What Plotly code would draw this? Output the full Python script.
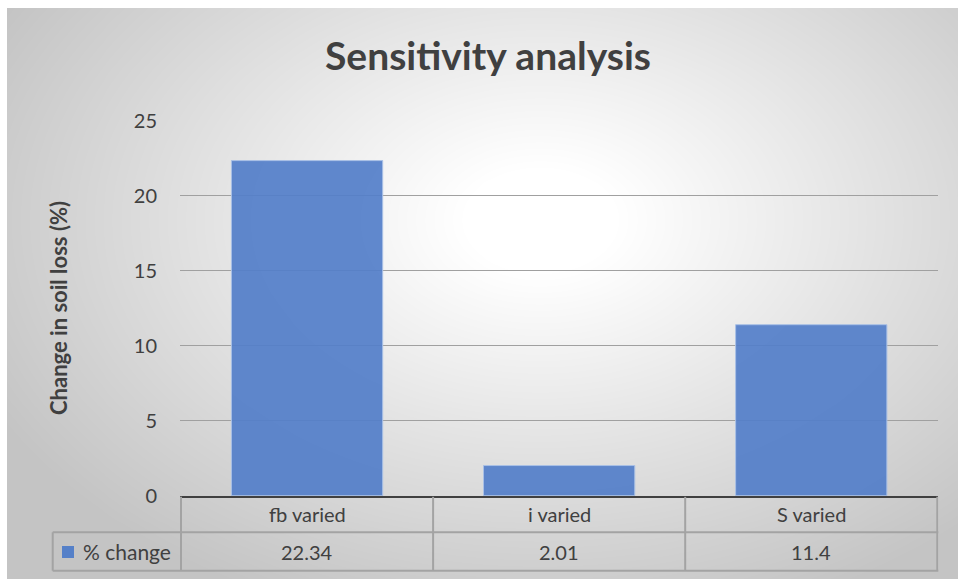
import numpy as np
import plotly.graph_objects as go

# Chart data
categories = ["fb varied", "i varied", "S varied"]
pct_change = [22.34, 2.01, 11.4]
series_name = "% change"
y_ticks = [0, 5, 10, 15, 20, 25]

W, H = 958, 579
FONT = "Lato, 'Open Sans', sans-serif"
TXT = "#404040"
GRID = "#a0a0a0"
TABLE_LINE = "#a3a3a3"
BAR = "rgba(82,126,201,0.92)"

def px_x(p):
    return p / W

def px_y(p):
    return (H - p) / H

fig = go.Figure()

# Soft radial backdrop for the chart card (white centre fading to grey edges)
nx, ny = 240, 145
gx = np.linspace(7, W, nx)
gy = np.linspace(8, H, ny)
XX, YY = np.meshgrid(gx, gy)
rr = np.sqrt(((XX - 540) / 560.0) ** 2 + ((YY - 220) / 380.0) ** 2)
fig.add_trace(go.Heatmap(
    x=gx, y=gy, z=np.clip(rr, 0, 1.1),
    colorscale=[[0, "#ffffff"], [0.12, "#ffffff"], [1, "#c4c4c4"]],
    zmin=0, zmax=1.1, zsmooth="best", showscale=False, hoverinfo="skip",
    xaxis="x", yaxis="y",
))

# Bars
fig.add_trace(go.Bar(
    x=categories, y=pct_change, name=series_name,
    marker=dict(color=BAR, line=dict(color="#a9c0e6", width=1)),
    xaxis="x2", yaxis="y2", hoverinfo="x+y",
))

plot_x0, plot_x1 = px_x(180), px_x(938.3)
plot_y0, plot_y1 = px_y(495.7), px_y(120.7)

fig.update_layout(
    width=W, height=H,
    margin=dict(l=0, r=0, t=0, b=0, pad=0, autoexpand=False),
    paper_bgcolor="#ffffff",
    plot_bgcolor="rgba(0,0,0,0)",
    showlegend=False,
    bargap=0.4,
    font=dict(family=FONT, color=TXT, size=20),
    xaxis=dict(domain=[px_x(7), 1], range=[7, W], visible=False, fixedrange=True),
    yaxis=dict(domain=[0, px_y(8)], range=[H, 8], visible=False, fixedrange=True),
    xaxis2=dict(domain=[plot_x0, plot_x1], anchor="y2", showticklabels=False,
                showgrid=False, showline=True, linecolor="#404040", linewidth=2,
                ticks=""),
    yaxis2=dict(domain=[plot_y0, plot_y1], anchor="x2", range=[0, 25],
                tickvals=y_ticks, showgrid=True, gridcolor=GRID, gridwidth=1.4,
                zeroline=False, showline=False, ticks="",
                ticklabelstandoff=22,
                tickfont=dict(size=20, color=TXT, family=FONT)),
    title=dict(text="<b>Sensitivity analysis</b>", x=px_x(488), xanchor="center",
               y=px_y(56), yanchor="middle",
               font=dict(size=39, color=TXT, family=FONT)),
)

fig.add_annotation(text="<b>Change in soil loss (%)</b>", textangle=-90,
                   xref="paper", yref="paper", x=px_x(58), y=px_y(308),
                   xanchor="center", yanchor="middle",
                   showarrow=False, font=dict(size=22, color=TXT, family=FONT))

# Data table beneath the plot
row1_top, row_mid, row_bot = px_y(495.7), px_y(532.3), px_y(570.7)
legend_left = px_x(52.7)
line_style = dict(color=TABLE_LINE, width=2)
shapes = []
# horizontal rules
shapes.append(dict(type="line", xref="paper", yref="paper", x0=legend_left, x1=plot_x1,
                   y0=row_mid, y1=row_mid, line=line_style))
shapes.append(dict(type="line", xref="paper", yref="paper", x0=legend_left, x1=plot_x1,
                   y0=row_bot, y1=row_bot, line=line_style))
# vertical rules at category boundaries
for b in np.arange(len(categories) + 1) - 0.5:
    shapes.append(dict(type="line", xref="x2", yref="paper", x0=b, x1=b,
                       y0=row1_top - 0.002, y1=row_bot, line=line_style))
shapes.append(dict(type="line", xref="paper", yref="paper", x0=legend_left, x1=legend_left,
                   y0=row_mid, y1=row_bot, line=line_style))
# legend key swatch
shapes.append(dict(type="rect", xref="paper", yref="paper",
                   x0=px_x(62), x1=px_x(74), y0=px_y(558), y1=px_y(546),
                   fillcolor="#5580c8", line=dict(color="#5580c8", width=0)))
fig.update_layout(shapes=shapes)

row1_c = px_y(514)
row2_c = px_y(551.5)
for cat, val in zip(categories, pct_change):
    fig.add_annotation(text=cat, xref="x2", yref="paper", x=cat, y=row1_c,
                       xanchor="center", yanchor="middle",
                       showarrow=False, font=dict(size=20, color=TXT, family=FONT))
    fig.add_annotation(text=str(val), xref="x2", yref="paper", x=cat, y=row2_c,
                       xanchor="center", yanchor="middle",
                       showarrow=False, font=dict(size=20, color=TXT, family=FONT))
fig.add_annotation(text=series_name, xref="paper", yref="paper", x=px_x(173), y=row2_c,
                   xanchor="right", yanchor="middle", showarrow=False,
                   font=dict(size=21, color=TXT, family=FONT))

fig.write_html("out.html")
